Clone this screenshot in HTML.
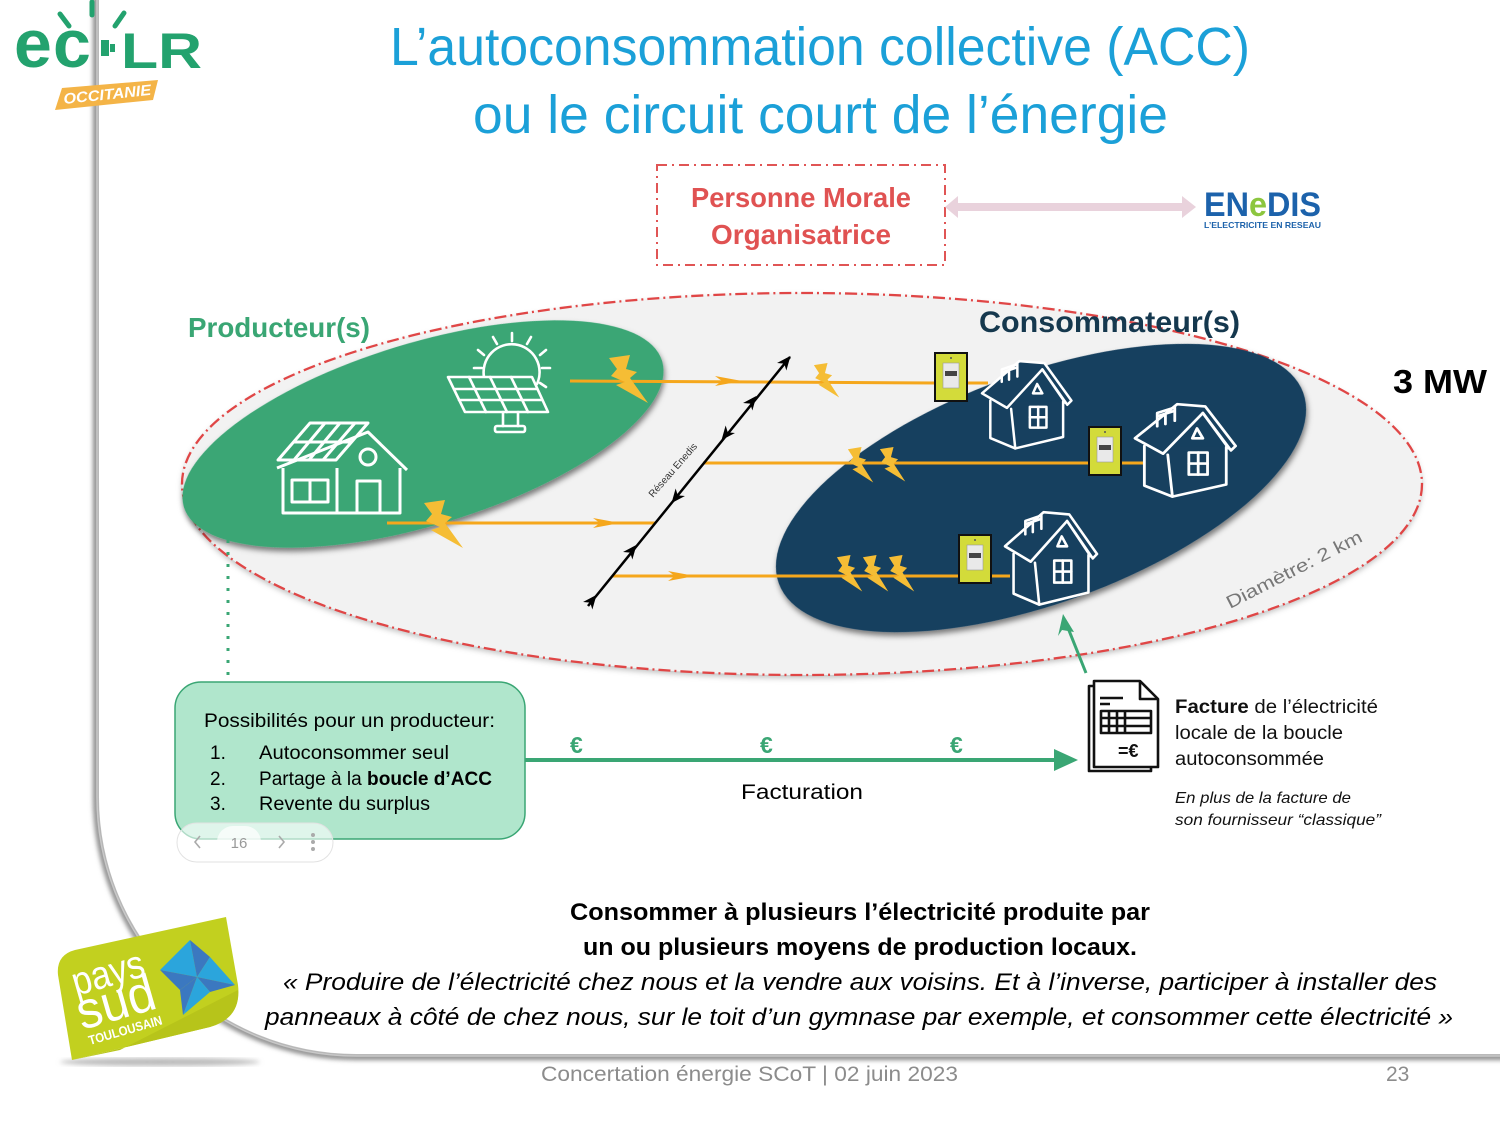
<!DOCTYPE html>
<html><head><meta charset="utf-8"><style>
html,body{margin:0;padding:0;background:#fff;overflow:hidden}
svg{display:block}
text{font-family:"Liberation Sans",sans-serif}
</style></head><body>
<svg xmlns="http://www.w3.org/2000/svg" width="1500" height="1125" viewBox="0 0 1500 1125">
<defs>
 <filter id="sh" x="-10%" y="-10%" width="120%" height="130%"><feDropShadow dx="0" dy="4" stdDeviation="3" flood-color="#000" flood-opacity="0.5"/></filter>
 <filter id="shl" x="-10%" y="-10%" width="120%" height="130%"><feDropShadow dx="0" dy="3" stdDeviation="3" flood-color="#000" flood-opacity="0.25"/></filter>
 <filter id="bl"><feGaussianBlur stdDeviation="2.5"/></filter>
 <path id="bolt" d="M6,3 L27,0 L23,14 L34,17 L27,23 L45,48 L13,30 L22,27 L8,21 L14,14 Z" fill="#f5bd35"/>
 <g id="meter"><rect x="0" y="0" width="32" height="48" fill="#d3db3a" stroke="#111" stroke-width="2"/><rect x="8" y="10" width="16" height="25" fill="#e9e9e9" stroke="#999" stroke-width="0.6"/><rect x="10" y="18" width="12" height="5" fill="#444"/><circle cx="16" cy="5" r="1" fill="#555"/></g>
 <g id="house" fill="none" stroke="#fff" stroke-width="2.4" stroke-linejoin="round" stroke-linecap="round">
  <path d="M8,40 V76 L32,86 L78,75 V41" fill="#17405f"/>
  <path d="M0,33 L36,2 L60,4 L86,40 L82,44 L58,10 L24,47 Z" fill="#17405f"/>
  <path d="M28,48 L32,86"/>
  <path d="M58,10 L80,42"/>
  <rect x="46" y="46" width="16" height="20"/>
  <path d="M54,46 V66 M46,56 H62"/>
  <path d="M53,24 L58,33 L49,33 Z"/>
  <path d="M19,22 V10 L34,5 V17 M19,13 L34,8 M26,11 V20"/>
 </g>
</defs>

<!-- card edge -->
<path d="M96 -20 V797 A260 260 0 0 0 356 1057 H1520" fill="none" stroke="#888" stroke-width="6" filter="url(#bl)"/>
<path d="M99 -20 V797 A257 257 0 0 0 356 1054 H1520 V-20 Z" fill="#fff"/>
<path d="M97 -20 V797 A259 259 0 0 0 356 1056 H1520" fill="none" stroke="#c8c8c8" stroke-width="1.5"/>

<!-- ECLR logo -->
<g stroke="#23a26e" stroke-width="5" stroke-linecap="round">
 <line x1="60" y1="14" x2="69" y2="26"/><line x1="92" y1="2" x2="92" y2="15"/><line x1="124" y1="13" x2="115" y2="26"/>
</g>
<text x="14" y="67" font-size="68" font-weight="bold" fill="#23a26e">e</text>
<text x="53" y="67" font-size="68" font-weight="bold" fill="#23a26e">c</text>
<rect x="101" y="40" width="8" height="16" fill="#23a26e"/><rect x="110" y="44" width="5" height="8" fill="#23a26e"/>
<text x="121" y="68" font-size="50" font-weight="bold" fill="#23a26e" textLength="81" lengthAdjust="spacingAndGlyphs">LR</text>
<path d="M62,88 L158,80 L153,100 L55,110 Z" fill="#f4b447"/>
<text transform="translate(64,104) rotate(-6)" font-size="15" font-weight="bold" font-style="italic" fill="#fff" textLength="88" lengthAdjust="spacingAndGlyphs">OCCITANIE</text>

<!-- title -->
<text x="390" y="65" font-size="54" fill="#1ba0d8" textLength="860" lengthAdjust="spacingAndGlyphs">L’autoconsommation collective (ACC)</text>
<text x="473" y="133" font-size="54" fill="#1ba0d8" textLength="695" lengthAdjust="spacingAndGlyphs">ou le circuit court de l’énergie</text>

<!-- PMO box -->
<rect x="657" y="165" width="288" height="100" fill="none" stroke="#e05555" stroke-width="2" stroke-dasharray="10 5 2 5"/>
<text x="691" y="207" font-size="28" font-weight="bold" fill="#e05252" textLength="220" lengthAdjust="spacingAndGlyphs">Personne Morale</text>
<text x="711" y="244" font-size="28" font-weight="bold" fill="#e05252" textLength="180" lengthAdjust="spacingAndGlyphs">Organisatrice</text>

<!-- pink double arrow -->
<path d="M945,207 L958,196 L958,203 L1182,203 L1182,196 L1196,207 L1182,218 L1182,211 L958,211 L958,218 Z" fill="#e9d2dc"/>

<!-- Enedis logo -->
<text x="1204" y="216" font-size="34" font-weight="bold" fill="#1c62ab" textLength="117" lengthAdjust="spacingAndGlyphs">EN<tspan fill="#8cc63f">e</tspan>DIS</text>
<text x="1204" y="228" font-size="8.5" font-weight="bold" fill="#1c62ab" textLength="117" lengthAdjust="spacingAndGlyphs">L’ELECTRICITE EN RESEAU</text>

<!-- big ellipse -->
<ellipse cx="802" cy="484" rx="620" ry="191" fill="#f2f2f2" filter="url(#shl)"/>
<ellipse cx="802" cy="484" rx="620" ry="191" fill="none" stroke="#e04646" stroke-width="2.3" stroke-dasharray="12 4 2 4"/>

<!-- producer ellipse -->
<ellipse cx="423" cy="434" rx="250" ry="91" transform="rotate(-17 423 434)" fill="#3aa674" filter="url(#sh)"/>
<!-- consumer ellipse -->
<ellipse cx="1041" cy="488" rx="279" ry="115" transform="rotate(-20 1041 488)" fill="#17405f" filter="url(#sh)"/>

<text x="188" y="337" font-size="28" font-weight="bold" fill="#3aa674" textLength="182" lengthAdjust="spacingAndGlyphs">Producteur(s)</text>
<text x="979" y="332" font-size="30" font-weight="bold" fill="#15384e" textLength="261" lengthAdjust="spacingAndGlyphs">Consommateur(s)</text>
<text x="1393" y="393" font-size="33" font-weight="bold" fill="#000" textLength="94" lengthAdjust="spacingAndGlyphs">3 MW</text>
<text transform="translate(1230,609) rotate(-27)" font-size="18" fill="#777" textLength="150" lengthAdjust="spacingAndGlyphs">Diamètre: 2 km</text>

<!-- producer icons: house with solar roof -->
<g fill="none" stroke="#fff" stroke-width="3" stroke-linejoin="round">
 <path d="M277,468 L368,432 L407,470"/>
 <path d="M283,468 V513 H400 V468"/>
 <path d="M337,468 V513"/>
 <rect x="292" y="480" width="36" height="22"/><path d="M310,480 V502"/>
 <path d="M357,512 V481 H380 V512"/>
 <circle cx="368" cy="457" r="8"/>
 <path d="M278,460 L310,423 L368,423 L336,460 Z"/>
 <path d="M294,442 L352,442 M325,423 L294,460 M340,423 L309,460 M355,423 L323,460"/>
</g>
<!-- solar panel with sun -->
<g fill="none" stroke="#fff" stroke-width="2.6" stroke-linecap="round" stroke-linejoin="round">
 <path d="M484,377 A28,28 0 1 1 537,384"/>
 <path d="M512,333 V341 M531,337 L527,344 M546,350 L540,355 M550,368 H542 M546,387 L540,383 M493,337 L497,344 M478,350 L484,355 M474,368 H482"/>
 <path d="M448,377 H532 L548,412 H465 Z" fill="#3aa674"/>
 <path d="M454,389 H537 M459,400 H542 M469,377 L486,412 M490,377 L507,412 M511,377 L528,412"/>
 <path d="M503,412 V426 M518,412 V426"/>
 <rect x="495" y="426" width="30" height="6" rx="2"/>
</g>

<!-- orange lines -->
<g stroke="#f5a71c" stroke-width="3" fill="none">
 <line x1="570" y1="381" x2="936" y2="383"/>
 <line x1="967" y1="383" x2="988" y2="383"/>
 <line x1="703" y1="463" x2="1090" y2="463"/>
 <line x1="1121" y1="463" x2="1146" y2="463"/>
 <line x1="387" y1="523" x2="655" y2="523"/>
 <line x1="612" y1="576" x2="960" y2="576"/>
 <line x1="991" y1="576" x2="1010" y2="576"/>
</g>
<g fill="#f5a71c">
 <path d="M715,376 L742,381 L715,386 L722,381 Z"/>
 <path d="M593,518 L620,523 L593,528 L600,523 Z"/>
 <path d="M668,571 L695,576 L668,581 L675,576 Z"/>
</g>
<!-- bolts -->
<use href="#bolt" x="603" y="355"/>
<use href="#bolt" x="418" y="500"/>
<use href="#bolt" transform="translate(810,363) scale(0.65,0.72)"/>
<use href="#bolt" transform="translate(844,447) scale(0.65,0.74)"/>
<use href="#bolt" transform="translate(876,447) scale(0.65,0.72)"/>
<use href="#bolt" transform="translate(833,555) scale(0.65,0.76)"/>
<use href="#bolt" transform="translate(859,555) scale(0.65,0.76)"/>
<use href="#bolt" transform="translate(885,555) scale(0.65,0.76)"/>

<!-- Reseau Enedis line -->
<line x1="588" y1="606" x2="790" y2="357" stroke="#000" stroke-width="2.5"/>
<g fill="#000">
 <g transform="translate(788,359) rotate(-51)"><path d="M4,0 L-10,-6 L-6,0 L-10,6 Z"/></g>
 <g transform="translate(754,399) rotate(-51)"><path d="M4,0 L-10,-6 L-6,0 L-10,6 Z"/></g>
 <g transform="translate(724,437) rotate(129)"><path d="M4,0 L-10,-6 L-6,0 L-10,6 Z"/></g>
 <g transform="translate(674,500) rotate(129)"><path d="M4,0 L-10,-6 L-6,0 L-10,6 Z"/></g>
 <g transform="translate(634,548) rotate(-51)"><path d="M4,0 L-10,-6 L-6,0 L-10,6 Z"/></g>
 <g transform="translate(594,598) rotate(-51)"><path d="M4,0 L-10,-6 L-6,0 L-10,6 Z"/></g>
</g>
<text transform="translate(653,498) rotate(-49)" font-size="10" fill="#333" textLength="68" lengthAdjust="spacingAndGlyphs">Réseau Enedis</text>

<!-- meters & houses -->
<use href="#meter" x="935" y="353"/>
<use href="#meter" x="1089" y="427"/>
<use href="#meter" x="959" y="535"/>
<use href="#house" transform="translate(982,359) scale(1.04)"/>
<use href="#house" transform="translate(1135,402) scale(1.17,1.1)"/>
<use href="#house" transform="translate(1005,510) scale(1.07,1.1)"/>

<!-- green arrow to house -->
<line x1="1086" y1="673" x2="1068" y2="628" stroke="#3aa674" stroke-width="3"/>
<path d="M1063,614 L1074,632 L1062,630 L1058,636 Z" fill="#3aa674"/>

<!-- dotted line -->
<line x1="228" y1="540" x2="228" y2="686" stroke="#3aa674" stroke-width="3" stroke-dasharray="3 9"/>

<!-- green box -->
<rect x="175" y="682" width="350" height="157" rx="26" fill="#b0e6cc" stroke="#3aa674" stroke-width="1.5"/>
<text x="204" y="727" font-size="19.5" fill="#000" textLength="291" lengthAdjust="spacingAndGlyphs">Possibilités pour un producteur:</text>
<g font-size="19" fill="#000">
 <text x="210" y="759">1.</text><text x="259" y="759" textLength="190" lengthAdjust="spacingAndGlyphs">Autoconsommer seul</text>
 <text x="210" y="785">2.</text><text x="259" y="785" textLength="233" lengthAdjust="spacingAndGlyphs">Partage à la <tspan font-weight="bold">boucle d’ACC</tspan></text>
 <text x="210" y="810">3.</text><text x="259" y="810" textLength="171" lengthAdjust="spacingAndGlyphs">Revente du surplus</text>
</g>
<!-- pagination pill -->
<rect x="177" y="823" width="156" height="39" rx="19.5" fill="#fff" fill-opacity="0.6" stroke="#e2e2e2"/>
<rect x="217" y="826" width="44" height="32" rx="16" fill="#fff" fill-opacity="0.7"/>
<text x="239" y="848" font-size="15" fill="#999" text-anchor="middle">16</text>
<path d="M200,836 L195,842 L200,848 M279,836 L284,842 L279,848" fill="none" stroke="#aaa" stroke-width="1.6"/>
<circle cx="313" cy="835" r="2" fill="#aaa"/><circle cx="313" cy="842" r="2" fill="#aaa"/><circle cx="313" cy="849" r="2" fill="#aaa"/>

<!-- facturation arrow -->
<line x1="525" y1="760" x2="1060" y2="760" stroke="#3aa674" stroke-width="4"/>
<path d="M1054,749 L1078,760 L1054,771 Z" fill="#3aa674"/>
<g font-size="23" font-weight="bold" fill="#3aa674">
 <text x="570" y="753">€</text><text x="760" y="753">€</text><text x="950" y="753">€</text>
</g>
<text x="741" y="799" font-size="21" fill="#000" textLength="122" lengthAdjust="spacingAndGlyphs">Facturation</text>

<!-- facture icon -->
<g fill="none" stroke="#111" stroke-width="2.6" stroke-linejoin="round">
 <path d="M1093,686 H1089 V771 H1151 V766" />
 <path d="M1094,681 H1140 L1158,699 V767 H1094 Z" fill="#fff"/>
 <path d="M1140,681 V699 H1158"/>
 <path d="M1100,698 H1123 M1100,704 H1110"/>
 <rect x="1101" y="711" width="50" height="22"/>
 <path d="M1101,718 H1151 M1101,726 H1151 M1109,711 V733 M1117,711 V733 M1125,711 V733"/>
</g>
<text x="1118" y="757" font-size="18" font-weight="bold" fill="#111">=€</text>

<g fill="#111">
 <text x="1175" y="713" font-size="19" textLength="203" lengthAdjust="spacingAndGlyphs"><tspan font-weight="bold">Facture</tspan> de l’électricité</text>
 <text x="1175" y="739" font-size="19" textLength="168" lengthAdjust="spacingAndGlyphs">locale de la boucle</text>
 <text x="1175" y="765" font-size="19" textLength="149" lengthAdjust="spacingAndGlyphs">autoconsommée</text>
 <text x="1175" y="803" font-size="16" font-style="italic" textLength="176" lengthAdjust="spacingAndGlyphs">En plus de la facture de</text>
 <text x="1175" y="825" font-size="16" font-style="italic" textLength="206" lengthAdjust="spacingAndGlyphs">son fournisseur “classique”</text>
</g>

<!-- bottom texts -->
<text x="570" y="920" font-size="24" font-weight="bold" fill="#000" textLength="580" lengthAdjust="spacingAndGlyphs">Consommer à plusieurs l’électricité produite par</text>
<text x="583" y="955" font-size="24" font-weight="bold" fill="#000" textLength="554" lengthAdjust="spacingAndGlyphs">un ou plusieurs moyens de production locaux.</text>
<text x="283" y="990" font-size="24" font-style="italic" fill="#000" textLength="1154" lengthAdjust="spacingAndGlyphs">« Produire de l’électricité chez nous et la vendre aux voisins. Et à l’inverse, participer à installer des</text>
<text x="265" y="1025" font-size="24" font-style="italic" fill="#000" textLength="1188" lengthAdjust="spacingAndGlyphs">panneaux à côté de chez nous, sur le toit d’un gymnase par exemple, et consommer cette électricité »</text>

<!-- footer -->
<text x="541" y="1081" font-size="21" fill="#8c8c8c" textLength="417" lengthAdjust="spacingAndGlyphs">Concertation énergie SCoT | 02 juin 2023</text>
<text x="1386" y="1081" font-size="21" fill="#8c8c8c">23</text>

<!-- pays sud logo -->
<ellipse cx="160" cy="1062" rx="100" ry="4" fill="#bbb" filter="url(#bl)"/>
<path d="M75,950 L226,917 L238,985 Q242,1018 210,1027 L72,1060 L58,975 Q56,955 75,950 Z" fill="#c2d01f"/>
<path d="M120,1050 L238,990 Q240,1018 210,1027 L72,1060 Z" fill="#b7c41a"/>
<g>
 <path d="M197,977 L160,970 L190,940 Z" fill="#2ba5dc"/>
 <path d="M197,977 L190,940 L210,957 Z" fill="#3b78c0"/>
 <path d="M197,977 L210,957 L235,985 Z" fill="#2ba5dc"/>
 <path d="M197,977 L235,985 L210,992 Z" fill="#3b78c0"/>
 <path d="M197,977 L210,992 L183,1015 Z" fill="#2ba5dc"/>
 <path d="M197,977 L183,1015 L180,990 Z" fill="#3b78c0"/>
 <path d="M197,977 L180,990 L160,970 Z" fill="#3b78c0"/>
</g>
<text transform="translate(76,996) rotate(-16)" font-size="40" fill="#fff" textLength="74" lengthAdjust="spacingAndGlyphs">pays</text>
<text transform="translate(82,1030) rotate(-16)" font-size="52" fill="#fff" textLength="80" lengthAdjust="spacingAndGlyphs">sud</text>
<text transform="translate(90,1045) rotate(-16)" font-size="13" font-weight="bold" fill="#fff" textLength="76" lengthAdjust="spacingAndGlyphs">TOULOUSAIN</text>
</svg>
</body></html>
